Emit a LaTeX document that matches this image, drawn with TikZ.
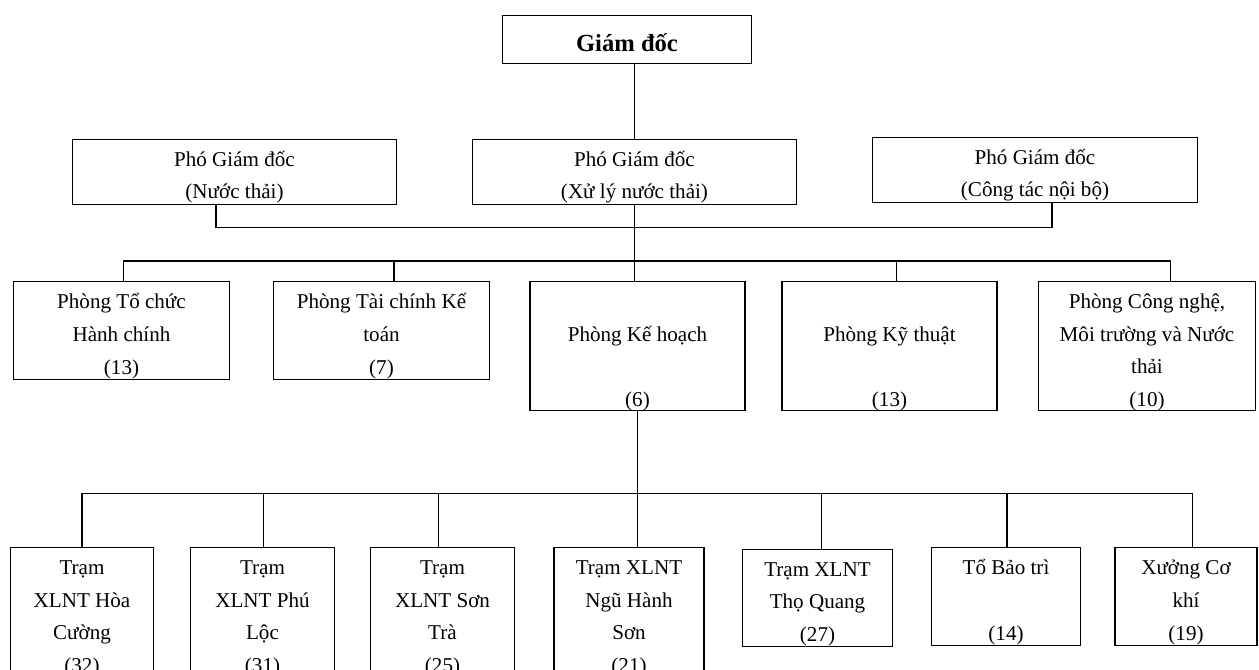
\documentclass[tikz,border=0pt]{standalone}
\usepackage{fontspec}
\setmainfont{Liberation Serif}
\tikzset{
  every picture/.style={line width=0.7pt},
  box/.style={draw, align=flush center, inner sep=0pt, minimum width=#1, text width=#1-3mm, font=\fontsize{12}{18.5}\selectfont},
  box/.default=4.32cm,
  boxh/.style={minimum height=#1, text height=15.5pt, text depth=#1-15.5pt},
  link/.style={draw, line width=1pt},
}

\begin{document}
\begin{tikzpicture}[
    head/.style={box=4.97cm, minimum height=0.97cm, text height=20.5pt, text depth=0.97cm-20.5pt, font=\fontsize{14}{16}\selectfont\bfseries},
    deputy/.style={box=6.49cm, boxh=1.31cm},
    dept/.style={box=4.32cm, boxh=1.95cm},
    tall/.style={box=4.3cm, boxh=2.58cm},
    stn/.style={box=#1, boxh=2.58cm},
    team/.style={box=#1, boxh=1.95cm},
  ]
  \useasboundingbox (0,0) rectangle (25.18,13.4);
  \clip (0,0) rectangle (25.18,13.4);

  % director and deputies
  \node[head] (gd) at (12.54,12.61) {Giám đốc};
  \node[deputy] (pgd1) at (4.69,9.96)  {Phó Giám đốc\\(Nước thải)};
  \node[deputy] (pgd2) at (12.69,9.96) {Phó Giám đốc\\(Xử lý nước thải)};
  \node[deputy] (pgd3) at (20.70,10.0) {Phó Giám đốc\\(Công tác nội bộ)};

  % departments
  \node[dept] (d1) at (2.43,6.79) {Phòng Tổ chức\\Hành chính\\(13)};
  \node[dept] (d2) at (7.63,6.79) {Phòng Tài chính Kế\\toán\\(7)};
  \node[tall] (d3) at (12.75,6.48) {~\\Phòng Kế hoạch\\~\\(6)};
  \node[tall] (d4) at (17.79,6.48) {~\\Phòng Kỹ thuật\\~\\(13)};
  \node[tall, minimum width=4.35cm] (d5) at (22.94,6.48) {Phòng Công nghệ,\\Môi trường và Nước\\thải\\(10)};

  % stations and workshops
  \node[stn=2.85cm] (b1) at (1.64,1.16)  {Trạm\\XLNT Hòa\\Cường\\(32)};
  \node[stn=2.87cm] (b2) at (5.25,1.16)  {Trạm\\XLNT Phú\\Lộc\\(31)};
  \node[stn=2.88cm] (b3) at (8.85,1.16)  {Trạm\\XLNT Sơn\\Trà\\(25)};
  \node[stn=3.0cm]  (b4) at (12.58,1.16) {Trạm XLNT\\Ngũ Hành\\Sơn\\(21)};
  \node[team=2.99cm] (b5) at (16.35,1.44) {Trạm XLNT\\Thọ Quang\\(27)};
  \node[team=2.98cm] (b6) at (20.12,1.47) {Tổ Bảo trì\\~\\(14)};
  \node[team=2.84cm] (b7) at (23.72,1.47) {Xưởng Cơ\\khí\\(19)};

  \coordinate (topbus) at (0,8.85);
  \coordinate (midbus) at (0,8.18);
  \coordinate (lowbus) at (0,3.53);

  % connectors
  \draw (gd.south -| pgd2.north) -- (pgd2.north);
  \draw[link] ([xshift=-3.7mm]pgd1.south) -- ([xshift=-3.7mm]pgd1.south |- topbus) -| ([xshift=3.4mm]pgd3.south);
  \draw[link] (pgd2.south) -- (pgd2.south |- d3.north);
  \draw[link] ([xshift=.4mm]d1.north) -- ([xshift=.4mm]d1.north |- midbus) -| ([xshift=4.7mm]d5.north);
  \foreach \d/\dx in {d2/0.25, d4/0.14}
    \draw[link] ([xshift=\dx cm]\d.north) -- ([xshift=\dx cm]\d.north |- midbus);
  \draw (d3.south) -- (d3.south |- b4.north);
  \draw (b1.north) -- (b1.north |- lowbus) -| ([xshift=1.3mm]b7.north);
  \foreach \b/\dx in {b2/0.02, b3/-0.085, b5/0.073, b6/0.02}
    \draw ([xshift=\dx cm]\b.north) -- ([xshift=\dx cm]\b.north |- lowbus);
\end{tikzpicture}
\end{document}
